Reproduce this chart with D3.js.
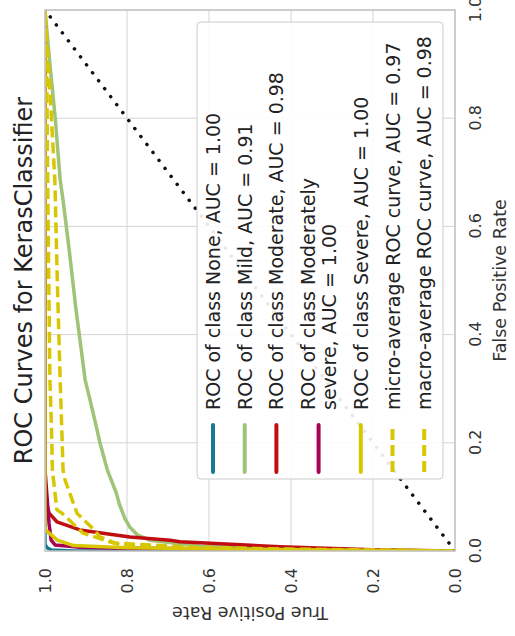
<!DOCTYPE html>
<html>
<head>
<meta charset="utf-8">
<script src="https://cdn.jsdelivr.net/npm/d3@7"></script>
<style>
  html, body { margin: 0; padding: 0; background: #fff; }
  svg { display: block; }
  text { font-family: "DejaVu Sans", sans-serif; }
</style>
</head>
<body>
<svg id="chart" width="515" height="636"></svg>
<script>
// ---- data ----
const titleText = "ROC Curves for KerasClassifier";
const xLabel = "False Positive Rate";
const yLabel = "True Positive Rate";
const tickValues = [0.0, 0.2, 0.4, 0.6, 0.8, 1.0];

const seriesNames = [
  "ROC of class None, AUC = 1.00",
  "ROC of class Mild, AUC = 0.91",
  "ROC of class Moderate, AUC = 0.98",
  "ROC of class Moderately\nsevere, AUC = 1.00",
  "ROC of class Severe, AUC = 1.00",
  "micro-average ROC curve, AUC = 0.97",
  "macro-average ROC curve, AUC = 0.98"
];
const seriesColors = ["#177a90", "#9fc377", "#c00d12", "#a50258", "#d7c703", "#d7c703", "#d7c703"];
const seriesDashed = [false, false, false, false, false, true, true];

const noneFpr = [0, 0.000, 0.002, 0.006, 0.012, 1];
const noneTpr = [0, 0.930, 0.985, 0.995, 1.000, 1];

const mildFpr = [0, 0.002, 0.004, 0.009, 0.020, 0.030, 0.044, 0.060, 0.085, 0.107, 0.150, 0.200, 0.224, 0.279, 0.316, 0.450, 0.550, 0.649, 0.686, 0.800, 0.900, 1];
const mildTpr = [0, 0.200, 0.380, 0.622, 0.745, 0.775, 0.793, 0.805, 0.818, 0.826, 0.848, 0.866, 0.873, 0.890, 0.902, 0.925, 0.940, 0.956, 0.963, 0.975, 0.988, 1];

const moderateFpr = [0, 0.002, 0.008, 0.017, 0.020, 0.026, 0.039, 0.054, 0.070, 0.090, 0.109, 1];
const moderateTpr = [0, 0.183, 0.427, 0.671, 0.695, 0.793, 0.915, 0.971, 0.990, 0.997, 1.000, 1];

const modSevereFpr = [0, 0.002, 0.004, 0.005, 0.007, 0.011, 0.020, 0.050, 0.100, 0.150, 1];
const modSevereTpr = [0, 0.350, 0.620, 0.800, 0.915, 0.975, 0.985, 0.990, 0.995, 1.000, 1];

const severeFpr = [0, 0.002, 0.004, 0.006, 0.010, 0.020, 0.040, 1];
const severeTpr = [0, 0.300, 0.600, 0.800, 0.930, 0.970, 1.000, 1];

const microFpr = [0, 0.003, 0.006, 0.011, 0.026, 0.039, 0.070, 0.131, 0.150, 0.200, 0.316, 0.500, 0.686, 0.850, 1];
const microTpr = [0, 0.350, 0.620, 0.817, 0.866, 0.880, 0.922, 0.951, 0.956, 0.958, 0.963, 0.970, 0.976, 0.988, 1];

const macroFpr = [0, 0.003, 0.007, 0.015, 0.033, 0.039, 0.070, 0.076, 0.150, 0.224, 0.316, 0.649, 0.895, 1];
const macroTpr = [0, 0.400, 0.650, 0.834, 0.907, 0.915, 0.959, 0.971, 0.982, 0.984, 0.988, 0.993, 0.996, 1];

const diagFpr = [0, 1];
const diagTpr = [0, 1];

const seriesFpr = [noneFpr, mildFpr, moderateFpr, modSevereFpr, severeFpr, microFpr, macroFpr];
const seriesTpr = [noneTpr, mildTpr, moderateTpr, modSevereTpr, severeTpr, microTpr, macroTpr];

// ---- layout (chart drawn upright, then rotated 90° counter-clockwise) ----
const W = 636, H = 515;
const margin = { left: 85, right: 10, top: 45, bottom: 60 };
const x = d3.scaleLinear().domain([0, 1]).range([margin.left, W - margin.right]);
const y = d3.scaleLinear().domain([0, 1]).range([H - margin.bottom, margin.top]);

const svg = d3.select("#chart");
svg.append("rect").attr("width", 515).attr("height", 636).attr("fill", "#fff");

const g = svg.append("g").attr("transform", `translate(0,${W}) rotate(-90)`);

svg.append("defs").append("clipPath").attr("id", "plotclip")
  .append("rect")
  .attr("x", x(0)).attr("y", y(1))
  .attr("width", x(1) - x(0)).attr("height", y(0) - y(1));

// grid
const grid = g.append("g");
grid.selectAll("line.gx").data(tickValues).join("line")
  .attr("x1", d => x(d)).attr("x2", d => x(d))
  .attr("y1", y(0)).attr("y2", y(1))
  .attr("stroke", "#d4d4d4").attr("stroke-width", 1);
grid.selectAll("line.gy").data(tickValues).join("line")
  .attr("y1", d => y(d)).attr("y2", d => y(d))
  .attr("x1", x(0)).attr("x2", x(1))
  .attr("stroke", "#d4d4d4").attr("stroke-width", 1);

// axes
const fmt = d3.format(".1f");
const xAxis = g.append("g").attr("transform", `translate(0,${y(0)})`)
  .call(d3.axisBottom(x).tickValues(tickValues).tickFormat(fmt).tickSize(0).tickPadding(15));
const yAxis = g.append("g").attr("transform", `translate(${x(0)},0)`)
  .call(d3.axisLeft(y).tickValues(tickValues).tickFormat(fmt).tickSize(0).tickPadding(17));
[xAxis, yAxis].forEach(a => {
  a.select(".domain").remove();
  a.selectAll("text").attr("font-size", 16).attr("fill", "#333")
    .attr("font-family", "DejaVu Sans, sans-serif");
});

// curves
const plot = g.append("g").attr("clip-path", "url(#plotclip)");
const line = d3.line().x(d => x(d[0])).y(d => y(d[1]));
seriesNames.forEach((name, i) => {
  const pts = seriesFpr[i].map((f, j) => [f, seriesTpr[i][j]]);
  plot.append("path")
    .attr("d", line(pts))
    .attr("fill", "none")
    .attr("stroke", seriesColors[i])
    .attr("stroke-width", 3.5)
    .attr("stroke-linejoin", "round")
    .attr("stroke-dasharray", seriesDashed[i] ? "11,5" : null);
});
plot.append("path")
  .attr("d", line(diagFpr.map((f, j) => [f, diagTpr[j]])))
  .attr("fill", "none").attr("stroke", "#111")
  .attr("stroke-width", 3.5).attr("stroke-linecap", "round")
  .attr("stroke-dasharray", "0.1,9.9");

// frame
g.append("rect")
  .attr("x", x(0)).attr("y", y(1))
  .attr("width", x(1) - x(0)).attr("height", y(0) - y(1))
  .attr("fill", "none").attr("stroke", "#c4c4c4").attr("stroke-width", 1.5);

// title & axis labels
g.append("text").attr("x", (x(0) + x(1)) / 2).attr("y", 32)
  .attr("text-anchor", "middle").attr("font-size", 24).attr("fill", "#222")
  .text(titleText);
g.append("text").attr("x", (x(0) + x(1)) / 2).attr("y", 506)
  .attr("text-anchor", "middle").attr("font-size", 17.5).attr("fill", "#333")
  .text(xLabel);
g.append("text").attr("transform", `translate(29,${(y(0) + y(1)) / 2}) rotate(-90)`)
  .attr("text-anchor", "middle").attr("font-size", 17.5).attr("fill", "#333")
  .text(yLabel);

// legend
const legend = g.append("g");
legend.append("rect")
  .attr("x", 157).attr("y", 197).attr("width", 614 - 157).attr("height", 443 - 197)
  .attr("rx", 4).attr("fill", "#fff").attr("fill-opacity", 0.9)
  .attr("stroke", "#cccccc").attr("stroke-width", 1);
const pitch = 31.7, lineGap = 21;
let cursor = 213;
seriesNames.forEach((name, i) => {
  const lines = name.split("\n");
  const center = cursor + (lines.length - 1) * lineGap / 2;
  legend.append("line")
    .attr("x1", 164).attr("x2", 211).attr("y1", center).attr("y2", center)
    .attr("stroke", seriesColors[i]).attr("stroke-width", 4)
    .attr("stroke-linecap", seriesDashed[i] ? "butt" : "round")
    .attr("stroke-dasharray", seriesDashed[i] ? "11,5" : null);
  lines.forEach((t, k) => {
    legend.append("text").attr("x", 226).attr("y", cursor + k * lineGap)
      .attr("dominant-baseline", "central").attr("font-size", 19).attr("fill", "#222")
      .text(t);
  });
  cursor += (lines.length - 1) * lineGap + pitch;
});
</script>
</body>
</html>
